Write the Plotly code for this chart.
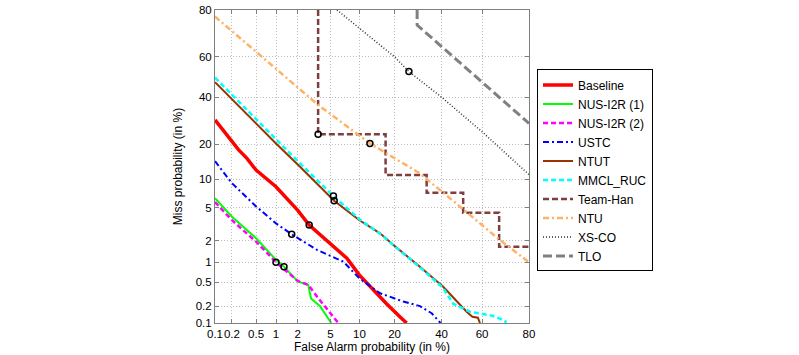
from statistics import NormalDist
import plotly.graph_objects as go

# ---------------- data (percent) ----------------
tick_vals_pct = [0.1, 0.2, 0.5, 1, 2, 5, 10, 20, 40, 60, 80]
tick_labels = ["0.1", "0.2", "0.5", "1", "2", "5", "10", "20", "40", "60", "80"]

baseline_fa = [0.1, 0.185, 0.26, 0.354, 0.5, 1.0, 2.0, 2.8, 4.5, 7.5, 10, 13.4, 17.3, 21.9, 24.5]
baseline_miss = [29.5, 22.1, 18, 15.4, 12.1, 8.4, 4.7, 3.15, 2.03, 1.14, 0.64, 0.37, 0.22, 0.13, 0.1]

nus1_fa = [0.1, 0.2, 0.5, 1.0, 1.3, 2.0, 2.73, 2.95, 3.8, 5.1]
nus1_miss = [6.4, 3.96, 2.14, 1.08, 0.86, 0.51, 0.45, 0.27, 0.2, 0.1]

nus2_fa = [0.1, 0.2, 0.5, 1.0, 2.0, 2.73, 3.8, 6.1]
nus2_miss = [5.8, 3.6, 1.93, 1.0, 0.52, 0.45, 0.25, 0.1]

ustc_fa = [0.1, 0.2, 0.5, 1.0, 1.66, 3.5, 6.9, 10, 15.3, 23.2, 30, 35.3, 39.5]
ustc_miss = [14.5, 9.1, 5.2, 3.3, 2.41, 1.49, 1.02, 0.57, 0.33, 0.24, 0.2, 0.15, 0.1]

ntut_fa = [0.1, 0.5, 1.0, 2.14, 2.6, 5.5, 10, 15.3, 19.6, 30, 40.8, 49, 52.4, 55.3, 58, 59]
ntut_miss = [47.4, 27.9, 20.2, 13, 11.3, 6.0, 3.6, 2.48, 1.74, 0.86, 0.42, 0.21, 0.16, 0.13, 0.125, 0.1]

mmcl_fa = [0.1, 0.5, 1.0, 2.14, 5.4, 10, 15.3, 19.6, 30, 40.8, 45.7, 54, 65, 70.6, 71]
mmcl_miss = [49.7, 29.6, 21.7, 13.9, 6.75, 3.7, 2.45, 1.72, 0.84, 0.4, 0.22, 0.16, 0.135, 0.11, 0.1]

teamhan_fa = [3.6, 17, 33, 50.7, 68, 80]
teamhan_miss = [80, 23.6, 10.9, 7.3, 4.41, 1.65]

ntu_fa = [0.1, 0.72, 3.6, 12.5, 30, 49, 68.3, 80]
ntu_miss = [77.6, 58.1, 36.3, 20.2, 11.3, 5.2, 2.03, 1.0]

xsco_fa = [5.9, 20, 25.4, 40, 60, 80]
xsco_miss = [80, 60, 52.7, 40, 24.6, 11]

tlo_fa = [28.8, 28.8, 60.6, 80]
tlo_miss = [80, 74.3, 46.9, 28]

# min-cost operating points (black circles)
mindcf_fa = [2.8, 1.3, 1.0, 1.66, 5.5, 5.4, 3.6, 12.5, 25.4]
mindcf_miss = [3.15, 0.86, 1.0, 2.41, 6.0, 6.75, 23.6, 20.2, 52.7]

# ---------------- helpers ----------------
nd = NormalDist()


def probit(vals):
    return [nd.inv_cdf(v / 100.0) for v in vals]


series = [
    ("Baseline", baseline_fa, baseline_miss, dict(color="#FF0000", width=3.5, dash="solid"), "linear"),
    ("NUS-I2R (1)", nus1_fa, nus1_miss, dict(color="#00FF00", width=2, dash="solid"), "linear"),
    ("NUS-I2R (2)", nus2_fa, nus2_miss, dict(color="#FF00FF", width=2.5, dash="5px,3px"), "linear"),
    ("USTC", ustc_fa, ustc_miss, dict(color="#0000FF", width=2, dash="6px,3px,2px,3px"), "linear"),
    ("NTUT", ntut_fa, ntut_miss, dict(color="#993300", width=2, dash="solid"), "linear"),
    ("MMCL_RUC", mmcl_fa, mmcl_miss, dict(color="#00FFFF", width=2.5, dash="5px,3px"), "linear"),
    ("Team-Han", teamhan_fa, teamhan_miss, dict(color="#7F3F3F", width=2.5, dash="6px,3px"), "vh"),
    ("NTU", ntu_fa, ntu_miss, dict(color="#FFB266", width=2.5, dash="6px,3px,2px,3px"), "linear"),
    ("XS-CO", xsco_fa, xsco_miss, dict(color="#303030", width=1.5, dash="1px,2px"), "linear"),
    ("TLO", tlo_fa, tlo_miss, dict(color="#808080", width=3, dash="9px,4px"), "linear"),
]

fig = go.Figure()
for name, fa, miss, line, shape in series:
    fig.add_trace(go.Scatter(
        x=probit(fa), y=probit(miss), mode="lines", name=name,
        line=dict(shape=shape, **line),
    ))

fig.add_trace(go.Scatter(
    x=probit(mindcf_fa), y=probit(mindcf_miss), mode="markers", showlegend=False,
    marker=dict(symbol="circle-open", size=6, color="black", line=dict(width=1.5, color="black")),
))

rng = [nd.inv_cdf(0.001), nd.inv_cdf(0.8)]
axis_common = dict(
    range=rng, tickmode="array", tickvals=probit(tick_vals_pct), ticktext=tick_labels,
    showgrid=True, gridcolor="#bdbdbd", griddash="1px,2px", gridwidth=1,
    showline=True, linecolor="#808080", linewidth=1, mirror="ticks",
    ticks="inside", ticklen=4, tickcolor="#808080", zeroline=False,
    tickfont=dict(size=11.5, color="black"), tickangle=0, automargin=False,
)

fig.update_layout(
    width=799, height=355,
    margin=dict(l=215, r=270, t=10, b=32),
    paper_bgcolor="white", plot_bgcolor="white",
    font=dict(family="Liberation Sans, Arial, sans-serif", size=12, color="black"),
    xaxis=dict(title=dict(text="False Alarm probability (in %)", font=dict(size=12), standoff=1),
               ticklabelstandoff=0, **axis_common),
    yaxis=dict(title=dict(text="Miss probability (in %)", font=dict(size=12), standoff=10), **axis_common),
    legend=dict(
        x=1.0255, y=0.81, xanchor="left", yanchor="top",
        bordercolor="black", borderwidth=1, bgcolor="white",
        font=dict(size=12), tracegroupgap=0, itemwidth=30,
    ),
    showlegend=True,
)

fig.write_html(
    "out.html",
    config={"displayModeBar": False},
    post_script="document.body.style.margin='0';document.body.style.padding='0';",
)
